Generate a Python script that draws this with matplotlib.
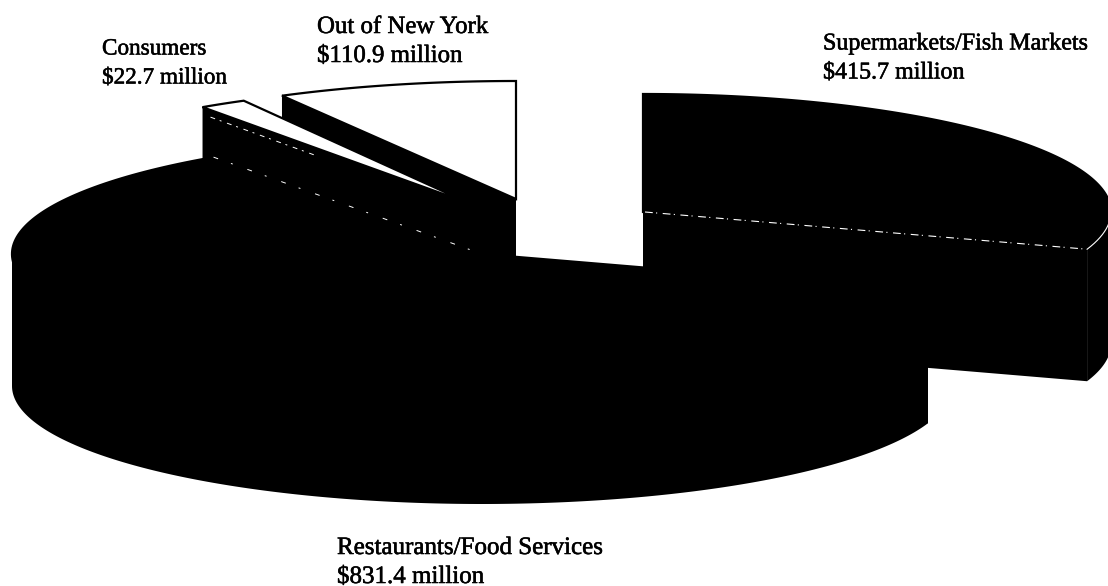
# Exploded 3D-style pie of landings sales by market, black and white

import numpy as np
import matplotlib
matplotlib.use("Agg")
import matplotlib.pyplot as plt
import matplotlib.patheffects as pe

categories = ["Supermarkets/Fish Markets", "Restaurants/Food Services", "Consumers", "Out of New York"]
values = [415.7, 831.4, 22.7, 110.9]

# where each slice sits once pulled out of the pie, in pixels
apex_x = [643, 482, 471, 516]
apex_y = [212, 254, 204, 199]
slice_rx = [468, 470, 470, 484]
top_color = ["black", "black", "white", "white"]
label_x = [823, 337, 102, 317]
label_y = [44, 548, 49, 27]
label_size = [17.3, 18, 16.7, 17.9]

ry = 118
depth = 132


def arcPoints(start, end, cx, cy, rx):
    t = np.radians(np.linspace(start, end, 200))
    return cx + rx*np.sin(t), cy - ry*np.cos(t)


def drawSlice(ax, start, end, cx, cy, rx, color):
    ax_x, ax_y = arcPoints(start, end, cx, cy, rx)

    # rim of the slice, only the part facing the viewer
    lo = max(start, 90)
    hi = min(end, 270)
    if hi > lo:
        rim_x, rim_y = arcPoints(lo, hi, cx, cy, rx)
        ax.fill(np.r_[rim_x, rim_x[::-1]], np.r_[rim_y, rim_y[::-1] + depth], color="black", lw=0)

    # the two cut faces going down from the top
    for t in [start, end]:
        ex, ey = arcPoints(t, t, cx, cy, rx)
        ax.fill([cx, ex[0], ex[0], cx], [cy, ey[0], ey[0] + depth, cy + depth], color="black", lw=0)

    # top surface
    ax.fill(np.r_[cx, ax_x], np.r_[cy, ax_y], facecolor=color, edgecolor="black", lw=1.6, joinstyle="miter")


def main():
    fig = plt.figure(figsize=(11.08, 5.86), dpi=100)
    ax = fig.add_axes([0, 0, 1, 1])
    ax.set_xlim(0, 1108)
    ax.set_ylim(586, 0)
    ax.axis("off")

    # slice boundaries clockwise from twelve o'clock
    edges = np.r_[0, np.cumsum(values)] / np.sum(values) * 360

    # back slices first so the front ones cover them
    for i in [3, 2, 0, 1]:
        drawSlice(ax, edges[i], edges[i+1], apex_x[i], apex_y[i], slice_rx[i], top_color[i])

    # thin broken white lines that show the edges on the black slices
    broken = (0, (7, 3, 1, 5))
    tx, ty = arcPoints(edges[1], edges[1], apex_x[0], apex_y[0], slice_rx[0])
    ax.plot([apex_x[0] + 2, tx[0]], [apex_y[0], ty[0]], color="white", lw=0.8, ls=broken)
    rim_x, rim_y = arcPoints(edges[1], edges[1] - 17, apex_x[0], apex_y[0], slice_rx[0])
    ax.plot(rim_x, rim_y, color="white", lw=0.8)
    tx, ty = arcPoints(edges[2], edges[2], apex_x[1], apex_y[1], slice_rx[1])
    ax.plot([tx[0], apex_x[1]], [ty[0], apex_y[1]], color="white", lw=0.7, ls=(0, (5, 14, 2, 16)))
    tx, ty = arcPoints(edges[2], edges[2], apex_x[2], apex_y[2], slice_rx[2])
    ax.plot([tx[0] + 8, tx[0] + 115], [ty[0] + 10, ty[0] + 49], color="white", lw=0.7, ls=(0, (5, 5, 2, 6)))

    # slightly heavier strokes for the printed look of the labels
    heavy = [pe.withStroke(linewidth=0.4, foreground="black")]
    for i in range(len(categories)):
        ax.text(label_x[i], label_y[i], categories[i], family="Liberation Serif", fontsize=label_size[i],
                va="center", ha="left", color="black", parse_math=False, path_effects=heavy)
        ax.text(label_x[i], label_y[i] + 29, "$%.1f million" % values[i], family="Liberation Serif",
                fontsize=label_size[i], va="center", ha="left", color="black", parse_math=False,
                path_effects=heavy)

    fig.savefig("out.png", dpi=100)


if __name__ == "__main__":
    main()
